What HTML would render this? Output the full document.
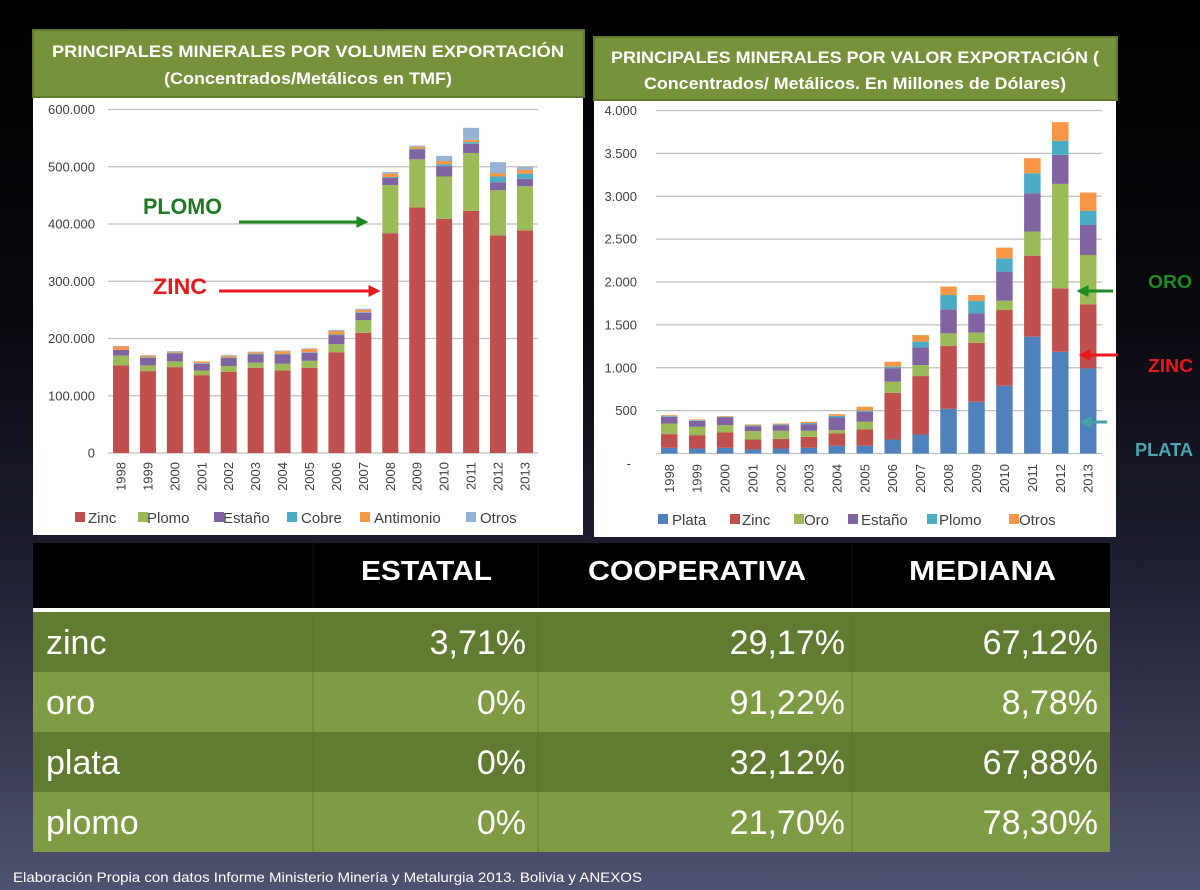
<!DOCTYPE html>
<html><head><meta charset="utf-8"><style>
html,body{margin:0;padding:0;background:#000}
svg{display:block}
text{font-family:"Liberation Sans",sans-serif}
</style></head><body>
<svg id="s" width="1200" height="890" viewBox="0 0 1200 890" xmlns="http://www.w3.org/2000/svg">
<defs>
<linearGradient id="bg" x1="0" y1="0" x2="0" y2="1">
<stop offset="0" stop-color="#000"/><stop offset="0.35" stop-color="#08080e"/><stop offset="0.65" stop-color="#1f2034"/><stop offset="1" stop-color="#4f5270"/>
</linearGradient>
<marker id="ag" viewBox="0 0 10 10" refX="8" refY="5" markerWidth="4" markerHeight="4" orient="auto"><path d="M0,0 L10,5 L0,10 z" fill="#1d8a22"/></marker>
<marker id="ar" viewBox="0 0 10 10" refX="8" refY="5" markerWidth="4" markerHeight="4" orient="auto"><path d="M0,0 L10,5 L0,10 z" fill="#e8191c"/></marker>
<marker id="at" viewBox="0 0 10 10" refX="8" refY="5" markerWidth="4" markerHeight="4" orient="auto"><path d="M0,0 L10,5 L0,10 z" fill="#45a0a8"/></marker>
</defs>
<rect width="1200" height="890" fill="url(#bg)"/>
<!-- panels -->
<rect x="33" y="96" width="550" height="439" fill="#fff"/>
<rect x="594" y="100" width="522" height="437" fill="#fff"/>
<rect x="33" y="30" width="551" height="67" fill="#77923a" stroke="#5e7a2c" stroke-width="2"/>
<rect x="594" y="37" width="523" height="63" fill="#77923a" stroke="#5e7a2c" stroke-width="2"/>
<text x="308" y="57" fill="#fff" font-weight="bold" font-size="17" text-anchor="middle" textLength="512" lengthAdjust="spacingAndGlyphs">PRINCIPALES MINERALES POR VOLUMEN EXPORTACIÓN</text>
<text x="308" y="84" fill="#fff" font-weight="bold" font-size="17" text-anchor="middle" textLength="288" lengthAdjust="spacingAndGlyphs">(Concentrados/Metálicos en TMF)</text>
<text x="855" y="63" fill="#fff" font-weight="bold" font-size="17" text-anchor="middle" textLength="488" lengthAdjust="spacingAndGlyphs">PRINCIPALES MINERALES POR VALOR EXPORTACIÓN (</text>
<text x="855" y="89" fill="#fff" font-weight="bold" font-size="17" text-anchor="middle" textLength="422" lengthAdjust="spacingAndGlyphs">Concentrados/ Metálicos. En Millones de Dólares)</text>
<g id="c"></g>
<!-- annotations -->
<text x="143" y="214" fill="#1d7a22" font-weight="bold" font-size="22" textLength="79" lengthAdjust="spacingAndGlyphs">PLOMO</text>
<line x1="239" y1="222" x2="366" y2="222" stroke="#1d8a22" stroke-width="3" marker-end="url(#ag)"/>
<text x="153" y="294" fill="#e8191c" font-weight="bold" font-size="22" textLength="54" lengthAdjust="spacingAndGlyphs">ZINC</text>
<line x1="219" y1="291" x2="378" y2="291" stroke="#e8191c" stroke-width="3" marker-end="url(#ar)"/>
<line x1="1113" y1="291" x2="1079" y2="291" stroke="#1d8a22" stroke-width="3" marker-end="url(#ag)"/>
<line x1="1118" y1="355" x2="1081" y2="355" stroke="#e8191c" stroke-width="3" marker-end="url(#ar)"/>
<line x1="1107" y1="422" x2="1082" y2="422" stroke="#45a0a8" stroke-width="3" marker-end="url(#at)"/>
<text x="1148" y="288" fill="#1d8a22" font-weight="bold" font-size="18" textLength="44" lengthAdjust="spacingAndGlyphs">ORO</text>
<text x="1148" y="372" fill="#e8191c" font-weight="bold" font-size="18" textLength="45" lengthAdjust="spacingAndGlyphs">ZINC</text>
<text x="1135" y="456" fill="#4aa5b0" font-weight="bold" font-size="18" textLength="58" lengthAdjust="spacingAndGlyphs">PLATA</text>
<!-- table -->
<rect x="33" y="543" width="1077" height="67" fill="#000"/>
<rect x="33" y="608" width="1077" height="4" fill="#fff"/>
<rect x="33" y="612" width="1077" height="60" fill="#617b30"/>
<rect x="33" y="672" width="1077" height="60" fill="#7f9b43"/>
<rect x="33" y="732" width="1077" height="60" fill="#617b30"/>
<rect x="33" y="792" width="1077" height="60" fill="#7f9b43"/>
<g stroke="#5a7030" stroke-width="1" opacity="0.6"><line x1="313" y1="612" x2="313" y2="852"/><line x1="538" y1="612" x2="538" y2="852"/><line x1="852" y1="612" x2="852" y2="852"/></g>
<g stroke="#111" stroke-width="1"><line x1="313" y1="543" x2="313" y2="608"/><line x1="538" y1="543" x2="538" y2="608"/><line x1="852" y1="543" x2="852" y2="608"/></g>
<g fill="#fff" font-weight="bold" font-size="28">
<text x="361" y="580" textLength="131" lengthAdjust="spacingAndGlyphs">ESTATAL</text>
<text x="588" y="580" textLength="218" lengthAdjust="spacingAndGlyphs">COOPERATIVA</text>
<text x="909" y="580" textLength="147" lengthAdjust="spacingAndGlyphs">MEDIANA</text>
</g>
<g fill="#fff" font-size="34">
<text x="46" y="654">zinc</text><text x="46" y="714">oro</text><text x="46" y="774">plata</text><text x="46" y="834">plomo</text>
<g text-anchor="end">
<text x="526" y="654">3,71%</text><text x="845" y="654">29,17%</text><text x="1098" y="654">67,12%</text>
<text x="526" y="714">0%</text><text x="845" y="714">91,22%</text><text x="1098" y="714">8,78%</text>
<text x="526" y="774">0%</text><text x="845" y="774">32,12%</text><text x="1098" y="774">67,88%</text>
<text x="526" y="834">0%</text><text x="845" y="834">21,70%</text><text x="1098" y="834">78,30%</text>
</g></g>
<text x="13" y="882" fill="#fff" font-size="14" textLength="629" lengthAdjust="spacingAndGlyphs">Elaboración Propia con datos Informe Ministerio Minería y Metalurgia 2013. Bolivia y ANEXOS</text>
</svg>
<script>
(function(){
var g=document.getElementById('c'),NS='http://www.w3.org/2000/svg';
function el(t,a,txt){var e=document.createElementNS(NS,t);for(var k in a)e.setAttribute(k,a[k]);if(txt!=null)e.textContent=txt;g.appendChild(e);return e;}
var years=[];for(var y=1998;y<=2013;y++)years.push(y);
// Left chart cumulative tops: zinc, plomo, estano, cobre, antimonio, otros
var L=[[153,170,180,180,186,187],[143,153,166,167,170,171],[150,160,174,175,177,178],[136,144,156,157,160,160],[142,152,166,167,170,171],[149,158,172,173,176,177],[144,156,172,173,178,179],[149,161,175,176,182,183],[176,190,206,207,213,215],[210,232,245,246,250,252],[384,468,481,482,488,491],[429,513,530,531,535,537],[409,483,501,504,510,519],[423,524,540,543,547,568],[380,459,473,483,489,508],[389,466,479,488,495,500]];
var Lc=['#c0504d','#9bbb59','#8064a2','#4bacc6','#f79646','#95b3d7'];
var y0=453,k=343.5/600;
for(var i=0;i<=6;i++){var yy=y0-i*100*k;el('line',{x1:108,x2:538,y1:yy,y2:yy,stroke:'#bfbfbf','stroke-width':1.2});
el('text',{x:95,y:yy+4.5,'text-anchor':'end','font-size':13,fill:'#404040'},i==0?'0':(i*100)+'.000');}
L.forEach(function(s,j){var x=113+j*26.93,p=0;s.forEach(function(v,c){if(v>p){el('rect',{x:x,y:y0-v*k,width:16,height:(v-p)*k,fill:Lc[c]});}p=Math.max(p,v);});
var cx=x+8;el('text',{x:0,y:0,transform:'translate('+(cx+4.5)+',462) rotate(-90)','text-anchor':'end','font-size':13,fill:'#404040'},years[j]);});
var lg=[['Zinc',75,88],['Plomo',138,147],['Estaño',214,223],['Cobre',287,301],['Antimonio',360,374],['Otros',466,480]];
lg.forEach(function(a,c){el('rect',{x:a[1],y:512,width:10,height:10,fill:Lc[c]});el('text',{x:a[2],y:523,'font-size':15,fill:'#404040'},a[0]);});
// Right chart: plata, zinc, oro, estano, plomo, otros
var R=[[66,226,350,428,436,447],[58,214,311,381,388,397],[66,245,331,420,428,436],[47,163,261,319,328,339],[58,171,265,331,340,350],[66,195,265,342,355,370],[89,233,272,420,440,459],[89,280,370,486,500,545],[163,708,837,992,1012,1070],[222,903,1031,1237,1304,1381],[521,1253,1401,1681,1848,1946],[603,1292,1409,1634,1778,1848],[790,1673,1782,2121,2276,2401],[1362,2307,2588,3035,3268,3444],[1187,1926,3144,3482,3646,3864],[992,1739,2315,2665,2829,3043]];
var Rc=['#4f81bd','#c0504d','#9bbb59','#8064a2','#4bacc6','#f79646'];
var r0=453.5,rk=343/4000;
for(var i=0;i<=8;i++){var yy=r0-i*500*rk;el('line',{x1:656,x2:1102,y1:yy,y2:yy,stroke:'#bfbfbf','stroke-width':1.2});
var lab=i==0?'-':(i*500>=1000?Math.floor(i*500/1000)+'.'+('00'+(i*500%1000)).slice(-3):String(i*500));
el('text',{x:i==0?631:637,y:yy+4.5+(i==0?10:0),'text-anchor':'end','font-size':13,fill:'#404040'},lab);}
R.forEach(function(s,j){var x=661+j*27.93,p=0;s.forEach(function(v,c){if(v>p){el('rect',{x:x,y:r0-v*rk,width:16.5,height:(v-p)*rk,fill:Rc[c]});}p=Math.max(p,v);});
el('text',{x:0,y:0,transform:'translate('+(x+8.25+4.5)+',464) rotate(-90)','text-anchor':'end','font-size':13,fill:'#404040'},years[j]);});
var lr=[['Plata',658,672],['Zinc',730,742],['Oro',794,804],['Estaño',848,861],['Plomo',927,939],['Otros',1009,1019]];
lr.forEach(function(a,c){el('rect',{x:a[1],y:514,width:10,height:10,fill:Rc[c]});el('text',{x:a[2],y:525,'font-size':15,fill:'#404040'},a[0]);});
})();
</script>
</body></html>
